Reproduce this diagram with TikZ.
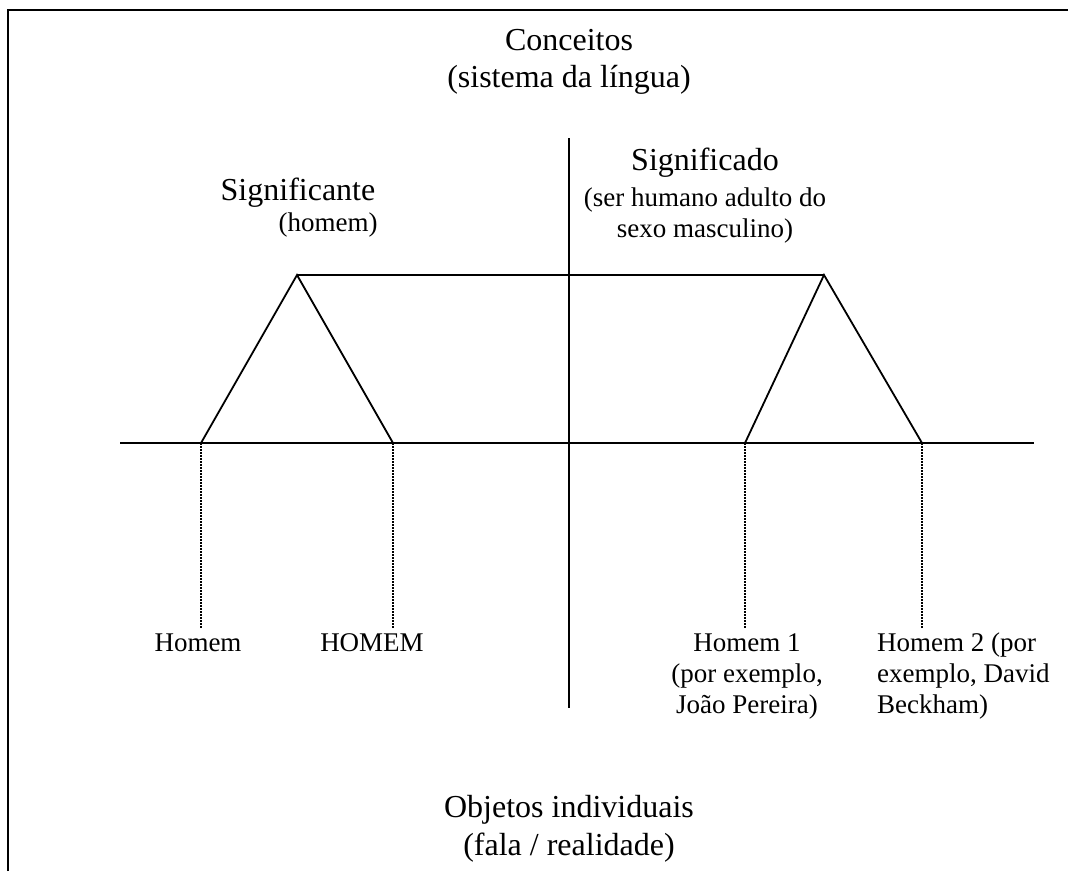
\documentclass[tikz,border=0pt]{standalone}
\usepackage{fontspec}
\setmainfont{Liberation Serif}
\begin{document}
\begin{tikzpicture}[x=1pt,y=-1pt,
  frame/.style={line width=2.4pt,black},
  axis/.style={line width=1.8pt,black},
  guide/.style={line width=1.4pt,black,dash pattern=on 1.5pt off 1.5pt},
  bigtxt/.style={inner sep=0pt,anchor=base,font=\fontsize{32}{37}\selectfont},
  smalltxt/.style={inner sep=0pt,anchor=base,font=\fontsize{27}{31}\selectfont}]
\useasboundingbox (0,0) rectangle (1068,871);

% open frame: top and left edges only
\coordinate (fTL) at (8,10);
\coordinate (fTR) at (1068,10);
\coordinate (fBL) at (8,871);
\draw[frame] (fBL) -- (fTL) -- (fTR);

% axes
\coordinate (vTop) at (569,138);
\coordinate (vBot) at (569,708);
\coordinate (hL) at (120,443);
\coordinate (hR) at (1034,443);
\draw[axis] (vTop) -- (vBot);
\draw[axis] (hL) -- (hR);

% the two triangles and the bridge between their apexes
\coordinate (apL) at (297,275);
\coordinate (apR) at (824,275);
\coordinate (bL1) at (201,443);
\coordinate (bL2) at (393,443);
\coordinate (bR1) at (745,443);
\coordinate (bR2) at (922,443);
\draw[axis,line join=miter] (bL1) -- (apL) -- (bL2);
\draw[axis,line join=miter] (bR1) -- (apR) -- (bR2);
\draw[axis] (apL) -- (apR);

% dotted guides down to the individual objects
\coordinate (dL1) at (201,628);
\coordinate (dL2) at (393,628);
\coordinate (dR1) at (745,628);
\coordinate (dR2) at (922,628);
\draw[guide] (bL1) -- (dL1);
\draw[guide] (bL2) -- (dL2);
\draw[guide] (bR1) -- (dR1);
\draw[guide] (bR2) -- (dR2);

% labels
\node[bigtxt] (conc1) at (569,50) {Conceitos};
\node[bigtxt] (conc2) at (569,87) {(sistema da língua)};

\node[bigtxt] (sgte) at (298,200) {Significante};
\node[smalltxt] (sgte2) at (328,231) {(homem)};

\node[bigtxt] (sgdo) at (705,170) {Significado};
\node[smalltxt] (sgdo2) at (705,206) {(ser humano adulto do};
\node[smalltxt] (sgdo3) at (705,237) {sexo masculino)};

% multi-line nodes are placed by the baseline of their last line
\node[smalltxt] (h1) at (198,651) {Homem};
\node[smalltxt] (h2) at (372,651) {HOMEM};
\node[smalltxt,align=center] (h3) at (747,713) {Homem 1\\(por exemplo,\\João Pereira)};
\node[smalltxt,anchor=base west,align=left] (h4) at (877,713) {Homem 2 (por\\exemplo, David\\Beckham)};

\node[bigtxt] (obj1) at (569,817) {Objetos individuais};
\node[bigtxt] (obj2) at (569,855) {(fala / realidade)};
\end{tikzpicture}
\end{document}
